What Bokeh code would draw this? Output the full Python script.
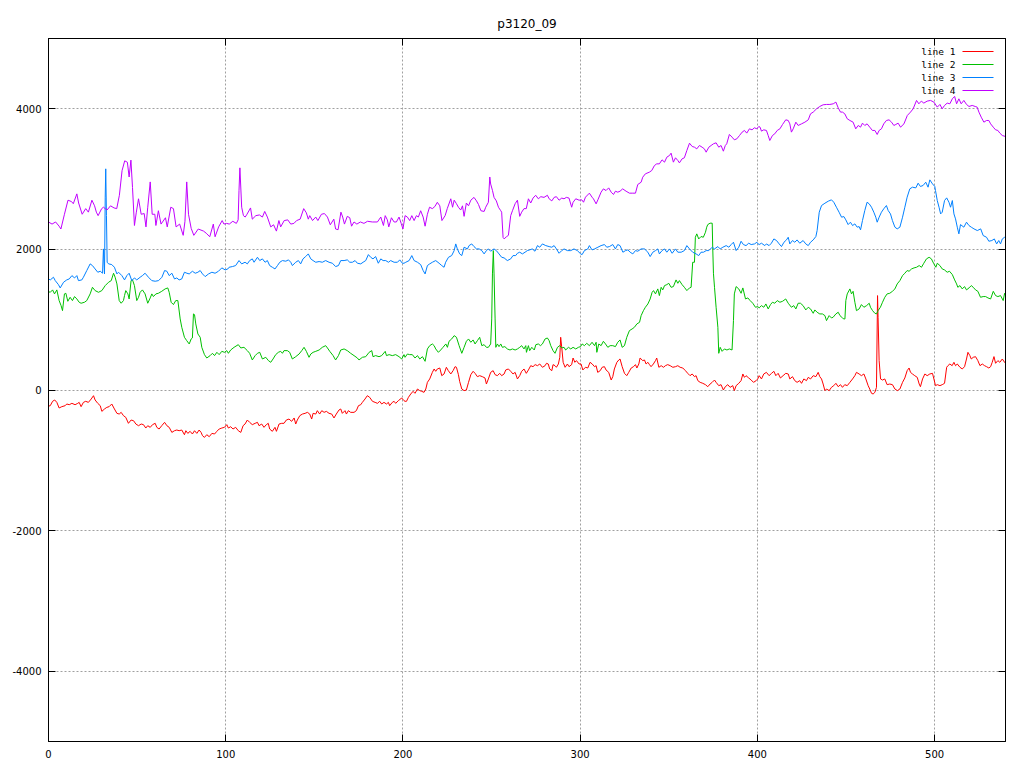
from bokeh.plotting import figure
from bokeh.models import (Range1d, FixedTicker, LinearAxis, PrintfTickFormatter,
                          CustomJSTickFormatter, Label, BoxAnnotation, Grid)
from bokeh.embed import file_html
from bokeh.resources import INLINE

TITLE = "p3120_09"
x_ticks = [0, 100, 200, 300, 400, 500]
y_ticks = [-4000, -2000, 0, 2000, 4000]
series_names = ["line 1", "line 2", "line 3", "line 4"]
series_colors = ["#ff0000", "#00c000", "#0080ff", "#c000ff"]

line1_xy = [
    (0, -230), (1, -223), (2.3, -161), (3.5, -142), (4.7, -176), (6, -256), (7.5, -237), (9.4, -223),
    (10.3, -199), (11.7, -209), (13.2, -190), (15, -209), (16.5, -190), (17.3, -176), (18.4, -237),
    (19.7, -176), (21, -161), (22.5, -176), (24.1, -128), (25.4, -81), (26.3, -142), (27.8, -190),
    (29.2, -223), (30.1, -304), (31.6, -270), (32.9, -247), (34.2, -237), (35.7, -199), (37.2, -270),
    (38.6, -332), (39.9, -342), (41, -318), (42.3, -365), (43.6, -389), (45.1, -474), (46.6, -427),
    (48, -437), (49.3, -484), (50.8, -508), (52.3, -484), (53.6, -493), (54.9, -541), (56, -508),
    (57.4, -531), (58.7, -493), (60.2, -474), (61.1, -531), (62.4, -555), (63.9, -508), (65.5, -460),
    (66.8, -508), (68.1, -531), (69.6, -603), (71.1, -579), (72.4, -569), (73.7, -579), (75.2, -569),
    (76.7, -636), (77.5, -579), (78.6, -617), (79.9, -588), (81.2, -626), (82.4, -579), (83.7, -617),
    (85, -569), (86.1, -603), (86.9, -650), (88, -674), (89.3, -636), (90.7, -664), (92.2, -617),
    (93.7, -626), (95, -588), (96.3, -555), (97.8, -541), (99.3, -531), (100.6, -493),
    (101.5, -541), (102.8, -522), (104.1, -555), (105.6, -531), (107.1, -579), (108.5, -603),
    (109.8, -508), (110.9, -484), (112.2, -427), (113.5, -460), (115, -493), (116.6, -474),
    (117.9, -460), (118.8, -508), (120.3, -484), (121.6, -531), (122.9, -493), (124, -474),
    (124.8, -555), (126.3, -588), (127.8, -531), (128.6, -588), (130.1, -484), (131.6, -474),
    (132.9, -474), (134.2, -427), (135.7, -413), (137.2, -446), (138.6, -398), (139.5, -484),
    (140.4, -427), (141.8, -365), (143.3, -342), (144.8, -332), (146.1, -318), (147.4, -342),
    (148.5, -413), (149.3, -332), (150.8, -342), (151.7, -294), (153, -342), (154.2, -294),
    (155.5, -318), (156.8, -304), (158.3, -332), (159.8, -342), (161.1, -398), (162.4, -342),
    (163.9, -285), (164.9, -270), (165.8, -332), (167.3, -294), (168.1, -342), (169.2, -294),
    (170.5, -318), (172.4, -318), (173.7, -294), (174.9, -223), (176.2, -209), (177.1, -176),
    (178.6, -128), (179.9, -81), (181.2, -104), (182.8, -161), (184.3, -176), (185.6, -190),
    (186.9, -161), (188, -199), (189.3, -176), (190.7, -199), (191.8, -176), (192.5, -223),
    (194, -176), (195, -161), (195.9, -190), (197.4, -152), (199.3, -114), (200.6, -152),
    (201.2, -161), (202, -161), (203.1, -104), (204.4, -57), (205.7, -19), (206.8, -47), (208.2, 14),
    (209.5, -9), (210.6, -19), (211.9, -33), (212.9, 14), (213.8, 109), (215.1, 157), (216.6, 251),
    (217.6, 299), (218.5, 266), (219.4, 299), (220.8, 313), (221.9, 204), (223.2, 228), (224.5, 323),
    (225.6, 275), (227, 228), (228.3, 275), (229.4, 332), (230.2, 323), (231.3, 218), (232, 123),
    (233.2, 14), (234.5, -9), (235.8, 0), (237, 109), (238.3, 218), (239.6, 266), (240.7, 237),
    (242, 190), (243.3, 204), (244.8, 190), (246.3, 171), (247.1, 85), (248.2, 157), (249.5, 251),
    (250.9, 275), (252, 218), (253.3, 204), (254.6, 237), (255.7, 204), (257.1, 228), (258, 285),
    (259.5, 299), (260.8, 266), (262.1, 228), (263.3, 251), (264.6, 157), (265.9, 204), (267, 266),
    (268.3, 299), (269.6, 237), (270.8, 285), (272.1, 346), (273.4, 332), (274.6, 361), (275.9, 346),
    (277.2, 370), (278.7, 323), (280.2, 346), (281, 380), (282, 370), (282.8, 299), (284, 275),
    (284.7, 361), (285.8, 346), (286.6, 323), (287.7, 370), (288.5, 465), (289, 750), (289.6, 607),
    (290.4, 394), (291.5, 323), (292.8, 370), (293.7, 332), (295.2, 361), (296, 455), (297, 394),
    (297.9, 418), (299.4, 370), (300.5, 370), (301.5, 285),
    (303, 323), (304.3, 313), (305.6, 394), (306.8, 370), (308.1, 332), (309, 346), (309.9, 251),
    (311.3, 275), (312.4, 323), (313.7, 332), (314.6, 285), (316.1, 251), (317.5, 142), (318.4, 190),
    (319.3, 299), (320.7, 394), (321.8, 427), (322.5, 441), (323.7, 332), (325, 237), (326.3, 204),
    (327.4, 251), (328.8, 313), (330.1, 332), (331.2, 361), (332, 313), (333.1, 370), (333.8, 455),
    (335.3, 418), (336.3, 427), (337.2, 370), (338.2, 394), (339.1, 361), (340, 332), (341.3, 370),
    (342.5, 418), (343.2, 455), (344.4, 323), (345.7, 346), (347, 323), (348.1, 346), (349.4, 361),
    (350.8, 346), (352.3, 323), (353.8, 332), (355.1, 346), (356.4, 323), (357.9, 313), (359.4, 275),
    (360.7, 237), (362, 204), (363.2, 228), (364.5, 190), (365.4, 204), (366.4, 133), (367.7, 109),
    (369.2, 95), (370.7, 76), (372, 47), (373.3, 85), (374.5, 109), (375.8, 142), (376.7, 109),
    (378.2, 62), (379.5, 76), (380.8, 0), (381.9, 47), (383.3, 76), (384.6, 38), (386.1, 62),
    (387, -9), (388, 62), (389.5, 95), (390.8, 133), (391.8, 228), (392.7, 180), (393.6, 204),
    (395.1, 171), (396.5, 142), (397.8, 109), (399.3, 133), (400.2, 157),
    (401, 204), (402.3, 157), (403.6, 228), (405.1, 251), (406.6, 204), (408, 237), (409.3, 266),
    (410.4, 204), (411.7, 237), (413, 171), (414.5, 204), (416, 237), (417.4, 228), (418.3, 157),
    (419.8, 190), (421.1, 133), (422.4, 109), (423.9, 133), (424.9, 95), (426.2, 157), (427.7, 133),
    (428.7, 180), (430, 157), (431.5, 204), (433, 190), (434.3, 251), (435.2, 190), (436.2, 157),
    (437.1, 85), (438.1, -9), (439, 14), (440.5, -9), (441.8, 38), (443.1, 62), (444.3, 95),
    (445.6, 47), (446.9, 76), (448, 38), (449.3, 76), (450.7, 62), (452.2, 109), (453.7, 157),
    (455, 204), (455.9, 251), (457.4, 228), (458.7, 204), (460.1, 228), (461.2, 157), (462.5, 62),
    (463.4, 14), (464.4, -47), (465.3, -57), (466.3, -33), (467.2, 38), (467.8, 1343), (468.1, 1034),
    (468.7, 418), (469.5, 157), (470.6, 142), (471.9, 157), (473.2, 76), (474.7, 85), (476.2, 76),
    (477.6, 14), (479, -9), (480.4, 14), (481.9, 109), (483.2, 171), (484.5, 275), (485.6, 313),
    (486.4, 251), (487.5, 228), (488.8, 204), (490.2, 180), (491.3, 85), (492, 47), (493.2, 157),
    (494.5, 228), (495.8, 204), (497.3, 228), (498.8, 237), (499.6, 157), (500.5, 62),
    (501.5, 76), (503, 62), (504.3, 76), (505.6, 95), (506.8, 323), (507.5, 346), (508.6, 370),
    (509.9, 346), (510.9, 394), (511.8, 346), (512.8, 370), (514.3, 323), (515.6, 299), (516.9, 332),
    (518, 441), (518.8, 536), (519.9, 489), (520.7, 441), (521.8, 465), (523.1, 474), (524.4, 418),
    (525.6, 346), (526.9, 370), (528.2, 346), (529.3, 332), (530.6, 313), (531.6, 332), (532.5, 394),
    (533.5, 475), (534.4, 380), (535.7, 418), (536.8, 394), (538.2, 441), (539.5, 394), (540, 380),
]

line2_xy = [
    (0, 1400), (1, 1390), (2.3, 1424), (3.4, 1367), (4.7, 1424), (6, 1272), (7.1, 1200), (7.9, 1129),
    (9, 1367), (9.8, 1376), (10.9, 1262), (12.2, 1319), (13.5, 1272), (14.7, 1329), (16, 1295),
    (17.3, 1248), (18.4, 1234), (20.3, 1248), (21.6, 1272), (23.5, 1367), (24.8, 1461), (26.3, 1414),
    (28.2, 1390), (30.1, 1414), (32, 1485), (33.9, 1533), (35.4, 1556), (36.7, 1661), (37.6, 1604),
    (38.6, 1509), (39.9, 1272), (41, 1234), (42.3, 1272), (42.9, 1343), (43.6, 1414), (44.8, 1367),
    (45.5, 1295), (46.6, 1556), (47.4, 1566), (48.5, 1485), (49.8, 1272), (50.8, 1319), (51.7, 1390),
    (53, 1424), (54.5, 1367), (56, 1234), (57.4, 1310), (58.3, 1367), (59.2, 1329), (60.6, 1367),
    (62, 1376), (63.9, 1404), (65.8, 1438), (67.3, 1452), (68.1, 1390), (69.2, 1248), (70.5, 1215),
    (71.8, 1272), (73, 1272), (74.3, 1011), (75.2, 892), (76.7, 750), (78, 702), (79.4, 655),
    (80.5, 726), (81.2, 740), (81.8, 1082), (82.4, 1072), (83.1, 940), (84.3, 797), (85.6, 750),
    (86.5, 607), (88, 503), (89.3, 455), (91.2, 489), (92.5, 522), (93.7, 489), (95, 536), (96.3, 503),
    (97.8, 550), (99.3, 536), (100.6, 560),
    (101.5, 522), (102.8, 569), (104.7, 607), (107.1, 645), (108.5, 598), (110.3, 607), (112.2, 560),
    (113.5, 522), (115, 427), (116.6, 489), (117.9, 522), (119.2, 536), (120.7, 441), (122.6, 465),
    (124.1, 418), (125.4, 394), (126.7, 441), (128.2, 503), (129.7, 536), (131, 550), (132, 522),
    (132.9, 560), (134.8, 560), (136.1, 536), (137.6, 441), (139.5, 474), (141.4, 512), (142.9, 560),
    (144.2, 607), (145.5, 550), (147, 465), (148, 512), (149.3, 536), (150.8, 550), (152.7, 569),
    (154.5, 607), (156.4, 631), (157.4, 598), (158.7, 550), (160.6, 489), (162, 427), (163.6, 489),
    (164.9, 569), (166.8, 584), (168.6, 560), (170.5, 522), (172.4, 489), (174.3, 455), (175.2, 427),
    (177.1, 465), (179, 474), (180.9, 536), (182.4, 560), (183.1, 474), (184.6, 489), (186.5, 474),
    (188, 489), (190, 550), (190.7, 489), (192.2, 503), (194, 489), (195.9, 503), (197.8, 474),
    (199.3, 441), (200.6, 503),
    (201.2, 465), (202.5, 512), (203.8, 503), (205.3, 503), (206.8, 455), (208.2, 489), (209.5, 441),
    (211, 474), (212.5, 408), (213.8, 584), (215.1, 631), (216.6, 655), (217.6, 631), (218.5, 584),
    (220, 536), (221.3, 569), (222.6, 607), (224.2, 655), (225.1, 607), (226, 693), (227.5, 726),
    (228.9, 773), (230.2, 750), (231.7, 631), (233.2, 522), (234.5, 607), (235.8, 693), (237, 726),
    (238.3, 679), (239.6, 712), (240.7, 655), (242, 702), (243.3, 750), (244.5, 631), (245.8, 645),
    (247.1, 607), (248.2, 607), (249.5, 655), (250.1, 1011), (250.5, 1651), (251, 1983), (251.4, 1651),
    (252, 1011), (252.4, 607), (253.3, 655), (254.2, 617), (255.2, 655), (256.1, 607), (257.5, 617),
    (258.9, 584), (260.4, 569), (261.8, 584), (263.3, 569), (264.6, 584), (265.9, 607), (267, 631),
    (268.3, 584), (269.3, 631), (269.7, 536), (270.8, 631), (271.5, 560), (272.7, 607), (274.1, 569),
    (275, 645), (276.4, 655), (277.6, 631), (278.7, 655), (280.2, 726), (281.5, 740), (282.5, 702),
    (283.4, 631), (284.7, 560), (285.8, 522), (287.2, 607), (288.5, 631), (289.6, 598), (290.9, 607),
    (291.8, 569), (293.4, 607), (294.7, 584), (296, 607), (297.5, 584), (299, 607), (300.2, 617),
    (301.1, 655), (302.4, 631), (303.7, 664), (305.2, 631), (306.7, 679), (308.1, 631), (309, 679),
    (309.4, 536), (310.5, 655), (311.8, 631), (313.1, 693), (314.3, 655), (315.6, 607), (316.9, 631),
    (318.4, 631), (319.9, 617), (321.2, 679), (322.5, 712), (323.7, 607), (325, 631), (326.3, 750),
    (327.8, 845), (329.3, 868), (330.6, 892), (332, 940), (333.5, 963), (334.4, 1058), (335.7, 1129),
    (336.8, 1177), (338.2, 1224), (339.5, 1295), (340.6, 1390), (341.4, 1414), (342.5, 1367),
    (343.8, 1438), (344.7, 1343), (345.7, 1461), (346.6, 1424), (347.6, 1485), (348.9, 1499),
    (350, 1518), (351.3, 1461), (352.6, 1471), (354.1, 1566), (355.1, 1518), (356, 1556),
    (357.5, 1499), (358.8, 1461), (360.2, 1414), (361.7, 1452), (362.6, 1461), (363.5, 1817),
    (364.5, 1817), (365, 2173), (365.8, 2221), (366.9, 2149), (368.2, 2183), (369.5, 2173),
    (370.7, 2244), (371.4, 2316), (372, 2353), (373.3, 2373), (374.5, 2373), (374.8, 2031),
    (375.2, 1661), (375.8, 1461), (376.7, 1177), (377.7, 892), (378.2, 522), (379, 607), (380.1, 550),
    (381.4, 584), (382.8, 569), (384.2, 584), (385.7, 569), (386.5, 987), (387, 1367), (388, 1471),
    (389.5, 1438), (390.8, 1376), (391.8, 1452), (393.3, 1295), (394.6, 1310), (395.9, 1272),
    (397.4, 1234), (398.9, 1177), (400.2, 1187),
    (401, 1168), (402.3, 1200), (403.6, 1177), (404.8, 1224), (406.1, 1153), (407.4, 1215),
    (408.5, 1248), (409.8, 1234), (411.2, 1272), (412.7, 1248), (414.2, 1262), (416, 1295),
    (417.4, 1234), (419.2, 1177), (420.5, 1200), (421.7, 1153), (423, 1234), (424.3, 1234),
    (425.8, 1200), (427.3, 1139), (428.7, 1177), (430, 1153), (431.5, 1091), (432.4, 1139),
    (433.7, 1106), (435.2, 1082), (436.7, 1082), (438.1, 1058), (439, 987), (440.5, 1058),
    (441.8, 1025), (442.7, 1034), (444.3, 1082), (445.6, 1106), (446.6, 1058), (448, 1025),
    (448.8, 1011), (449.4, 1011), (449.9, 1272), (450.7, 1367), (452.2, 1438), (453.1, 1367),
    (454, 1404), (455, 1248), (455.9, 1129), (457.4, 1153), (458.7, 1215), (460.1, 1177),
    (461.6, 1200), (463.1, 1234), (463.8, 1177), (465, 1129), (466.3, 1091), (467.2, 1082),
    (468.1, 1129), (469.4, 1177), (470.6, 1248), (471.9, 1319), (473.2, 1367), (474.7, 1376),
    (476.2, 1404), (477.6, 1438), (478.9, 1509), (480.4, 1556), (481.9, 1627), (483.2, 1661),
    (484.5, 1699), (485.6, 1689), (487, 1722), (488.4, 1737), (489.8, 1746), (491.3, 1770),
    (492.6, 1746), (493.9, 1803), (495.4, 1865), (496.9, 1888), (498.2, 1865), (499.4, 1803),
    (500.7, 1746),
    (501.5, 1803), (503, 1770), (504.3, 1722), (505.6, 1708), (507.1, 1675), (508.4, 1689),
    (510, 1642), (511.3, 1566), (512.4, 1509), (513.1, 1461), (514.3, 1485), (515.6, 1438),
    (516.9, 1471), (518, 1424), (519.4, 1452), (520.7, 1485), (521.8, 1461), (523.1, 1424),
    (524.4, 1404), (525.9, 1319), (527.4, 1329), (528.8, 1329), (530.1, 1310), (531.6, 1295),
    (533.1, 1404), (534.4, 1343), (535.7, 1329), (537.2, 1343), (538.7, 1272), (539.5, 1376),
    (540, 1343),
]

line3_xy = [
    (0, 1580), (1, 1566), (2.8, 1604), (3.8, 1556), (5.6, 1499), (6.6, 1452), (8.5, 1533),
    (10.3, 1566), (11.7, 1580), (13.2, 1627), (14.7, 1594), (16, 1627), (16.9, 1556), (18.8, 1566),
    (19.7, 1604), (21.6, 1699), (23.5, 1794), (24.8, 1770), (26.3, 1722), (27.8, 1675), (29.2, 1689),
    (30.5, 1661), (31, 2007), (31.6, 1651), (32, 2743), (32.3, 3146), (32.7, 2480), (33.1, 1817),
    (33.9, 1794), (35.7, 1784), (37.2, 1746), (38.6, 1651), (39.5, 1675), (41.4, 1627), (42.9, 1566),
    (44.2, 1627), (45.5, 1661), (47, 1556), (48.5, 1594), (49.8, 1566), (51.7, 1604), (53, 1627),
    (54.5, 1661), (56.4, 1604), (58.3, 1556), (60.2, 1547), (62.1, 1556), (64, 1604), (65.5, 1699),
    (66.8, 1689), (68.1, 1627), (69.6, 1661), (71.1, 1580), (72.4, 1594), (73.7, 1566), (75.2, 1580),
    (76.7, 1675), (78.1, 1661), (79.4, 1651), (81.2, 1689), (82.8, 1661), (84.3, 1675), (85.6, 1699),
    (86.9, 1651), (88.4, 1613), (90.3, 1651), (92.2, 1675), (94, 1661), (95.9, 1689), (97.8, 1737),
    (99.7, 1708), (101.2, 1722),
    (101.9, 1746), (103.8, 1756), (105.6, 1770), (107.5, 1841), (109, 1794), (110.9, 1817),
    (112.2, 1794), (113.5, 1841), (115, 1865), (116, 1817), (117.9, 1888), (119.2, 1841),
    (120.7, 1865), (122.2, 1817), (123.5, 1841), (124.8, 1770), (126.3, 1746), (127.8, 1722),
    (129.2, 1770), (130.5, 1817), (132, 1841), (133.9, 1832), (135.4, 1851), (136.7, 1817),
    (137.6, 1770), (139.5, 1817), (141, 1841), (142.3, 1794), (143.6, 1865), (145.1, 1898),
    (146.6, 1936), (148, 1865), (149.3, 1841), (150.8, 1817), (152.7, 1827), (154.5, 1817),
    (156.4, 1841), (158.3, 1817), (160.2, 1803), (162, 1756), (163.6, 1770), (164.9, 1841),
    (166.8, 1841), (168.6, 1851), (170, 1817), (171.5, 1817), (173, 1841), (174.3, 1803),
    (176.2, 1794), (177.5, 1817), (179, 1841), (180.5, 1926), (181.8, 1888), (183.1, 1865),
    (184.6, 1898), (186.1, 1803), (187.5, 1865), (188.8, 1841), (190.3, 1841), (191.8, 1817),
    (193.1, 1841), (195, 1817), (196.9, 1817), (198.2, 1851), (199.7, 1803), (200.6, 1803),
    (201.6, 1817), (203.5, 1841), (205, 1912), (206.3, 1841), (208.2, 1817), (210, 1784),
    (211.4, 1699), (212.5, 1651), (213.8, 1770), (215.1, 1794), (216.6, 1817), (218.5, 1841),
    (220.4, 1803), (221.9, 1770), (223.2, 1746), (224.1, 1817), (225.7, 1888), (227.5, 1912),
    (228.9, 1983), (229.8, 2078), (230.7, 2007), (232, 1936), (233.2, 1912), (234.5, 2031),
    (236.4, 2007), (237.3, 2054), (238.8, 2078), (240.1, 2040), (241.5, 2007), (243, 2007),
    (244.5, 1983), (245.8, 1936), (247.1, 1983), (248.2, 2007), (249.5, 1974), (250.5, 1993),
    (251.4, 2007), (252.7, 1983), (254.2, 1936), (255.7, 1888), (257.1, 1879), (258.9, 1841),
    (260.8, 1865), (262.1, 1912), (263.6, 1912), (264.6, 1945), (265.9, 1960), (267.4, 1936),
    (268.9, 1960), (270.2, 1983), (271.5, 1993), (273, 2007), (274.5, 1974), (275.9, 2054),
    (277.2, 2031), (278.7, 2078), (280.6, 2054), (282.5, 2040), (284, 2031), (285.3, 2054),
    (286.6, 2007), (288.1, 1945), (289.6, 1983), (290.9, 2007), (292.8, 1983), (294.7, 1983),
    (296.5, 2007), (298.4, 1983), (300.3, 1936),
    (301.1, 1926), (302.4, 1983), (304.3, 2007), (305.2, 2054), (306.7, 1993), (308.1, 2007),
    (310, 2031), (311.8, 2054), (313.7, 2069), (315, 2031), (316.5, 2040), (318.4, 2069),
    (319.9, 2007), (321.2, 2069), (322.5, 2054), (324.1, 1960), (325.6, 1983), (326.9, 1993),
    (328.2, 1960), (329.7, 1936), (331.2, 1983), (332.5, 1974), (334.4, 2007), (336.3, 2007),
    (338.2, 1960), (339.5, 1898), (341, 1960), (342.5, 1983), (343.8, 2007), (344.7, 1936),
    (346.2, 1983), (347.6, 2007), (348.9, 1960), (350.4, 2007), (351.9, 1945), (353.8, 2007),
    (355.1, 1960), (357, 1960), (358.8, 1983), (360.2, 2054), (361.7, 2007), (363.5, 1960),
    (365.4, 1936), (366.9, 1912), (368.2, 1960), (369.6, 1960), (371.1, 1983), (372.6, 1983),
    (374.5, 2031), (375.8, 2007), (377.7, 2040), (379, 2007), (380.5, 2031), (382.4, 2054),
    (383.9, 2031), (385.2, 2069), (386.5, 2102), (388, 1983), (389.5, 2031), (390.8, 2116),
    (392.1, 2069), (393.6, 2054), (395.1, 2088), (396.5, 2069), (398.4, 2078), (399.7, 2102),
    (400.4, 2078),
    (401, 2069), (402.3, 2088), (404.2, 2054), (405.1, 2078), (406.6, 2054), (407.9, 2088),
    (409.3, 2149), (410.8, 2126), (412.3, 2078), (413.6, 2040), (415, 2102), (416.4, 2135),
    (417.4, 2173), (418.3, 2078), (419.8, 2126), (421.1, 2102), (422.4, 2135), (423.9, 2088),
    (425.8, 2126), (427.3, 2078), (428.7, 2054), (430, 2102), (431.5, 2135), (433, 2183),
    (433.7, 2268), (434.9, 2529), (436.2, 2624), (438.1, 2657), (440, 2686), (441.8, 2705),
    (443.1, 2671), (444.6, 2600), (446.1, 2529), (447.5, 2458), (448.8, 2467), (449.9, 2420),
    (451.2, 2353), (452.5, 2387), (453.7, 2339), (455, 2363), (456.3, 2316), (457.4, 2325),
    (458.2, 2278), (459.3, 2410), (460.6, 2553), (461.9, 2671), (463.1, 2648), (464.4, 2600),
    (465.7, 2529), (466.8, 2458), (467.6, 2387), (468.7, 2458), (470, 2529), (471.3, 2577),
    (472.8, 2624), (473.8, 2553), (475.1, 2505), (476.2, 2410), (477.6, 2316), (478.9, 2292),
    (480.4, 2316), (481.9, 2458), (483.2, 2600), (484.5, 2743), (486, 2861), (487.5, 2885),
    (489.4, 2875), (490.7, 2942), (492, 2895), (493.5, 2909), (495, 2956), (496.3, 2885),
    (497.3, 2989), (498.8, 2932), (500.1, 2895), (500.5, 2837),
    (501.5, 2695), (502.5, 2600), (503.4, 2505), (504.3, 2529), (505.6, 2695), (506.8, 2733),
    (508.1, 2671), (509, 2600), (510, 2695), (510.9, 2505), (511.8, 2434), (512.8, 2316),
    (513.7, 2221), (514.6, 2353), (516.5, 2316), (518, 2387), (519.4, 2339), (520.7, 2316),
    (522.2, 2292), (524.1, 2268), (526, 2292), (527.4, 2197), (529.3, 2173), (530.6, 2116),
    (532.3, 2126), (533.7, 2149), (535, 2078), (536.2, 2126), (537.2, 2078), (538.2, 2149),
    (539.5, 2173), (540, 2183),
]

line4_xy = [
    (0, 2390), (2, 2360), (4, 2390), (6, 2330), (7, 2290), (9, 2500), (11, 2700), (13, 2680),
    (14, 2650), (16, 2790), (17, 2660), (19, 2500), (21, 2580), (22.5, 2530), (24.5, 2700),
    (26, 2620), (27, 2530), (28, 2480), (30, 2580), (31, 2600), (33, 2560), (35, 2620), (37, 2590),
    (38.5, 2580), (40, 2770), (41.5, 3120), (43, 3260), (44.5, 3240), (45.5, 3030), (46.5, 3270),
    (47.4, 2880), (48.5, 2340), (49.5, 2520), (50.8, 2720), (52.3, 2500), (54, 2510), (55, 2320),
    (56, 2600), (57.4, 2960), (58.5, 2500), (60, 2500), (60.6, 2340), (62, 2550), (63.5, 2360),
    (66, 2450), (67, 2320), (69, 2600), (70.5, 2580), (72, 2320), (74, 2360), (76, 2200), (77, 2400),
    (78, 2960), (79, 2500), (80.5, 2300), (82, 2200), (84.5, 2290), (87.5, 2260), (89, 2230),
    (91, 2180), (93, 2360), (94, 2180), (96, 2320), (98, 2410), (99, 2360), (100.5, 2370),
    (102, 2360), (104, 2400), (106, 2370), (107, 2420), (107.5, 2840), (108, 3160), (109, 2600),
    (110, 2480), (111, 2460), (112, 2500), (114, 2590), (115, 2430), (117, 2480), (119, 2490),
    (120.7, 2460), (122, 2540), (123.5, 2460), (125.4, 2320), (127, 2350), (128.6, 2260),
    (130, 2410), (131, 2320), (133, 2410), (135, 2420), (136.7, 2360), (138.5, 2370), (140, 2410),
    (142, 2430), (144, 2580), (145.5, 2520), (146.6, 2430), (147.4, 2480), (149, 2410),
    (150.8, 2460), (152, 2410), (154, 2500), (155.7, 2510), (157.4, 2460), (159, 2350), (161, 2430),
    (162, 2290), (163.4, 2280), (165, 2530), (166, 2460), (167, 2360), (168.6, 2470), (170, 2450),
    (171, 2330), (172.4, 2390), (174, 2360), (176, 2390), (178, 2370), (180, 2400), (182.7, 2390),
    (185.6, 2390), (187.5, 2460), (189, 2340), (190, 2480), (191.2, 2420), (192, 2320),
    (193.5, 2450), (195, 2390), (196.3, 2390), (197.8, 2460), (199, 2370), (200, 2290),
    (201.2, 2480), (202.5, 2460), (203.8, 2410), (205, 2480), (206.3, 2410), (207.6, 2480),
    (208.7, 2460), (210, 2550), (211.4, 2460), (212.5, 2330), (213.8, 2500), (215, 2600),
    (216.6, 2580), (218, 2610), (219.4, 2670), (220.8, 2620), (222, 2410), (223.8, 2480),
    (225, 2580), (227, 2720), (228, 2600), (228.9, 2700), (230.2, 2650), (231.3, 2600),
    (232.6, 2560), (233.6, 2620), (234.5, 2470), (235.8, 2660), (237, 2620), (238.3, 2700),
    (240.1, 2740), (241.5, 2690), (242.6, 2640), (244, 2550), (245.8, 2540), (246.7, 2600),
    (248.2, 2670), (249, 3030), (249.5, 2930), (250.5, 2840), (251.4, 2740), (252.7, 2690),
    (253.9, 2600), (255.2, 2550), (255.7, 2530), (256.5, 2170), (257.1, 2150), (258.4, 2180),
    (259.5, 2200), (260.8, 2480), (261.8, 2550), (263.3, 2650), (264.6, 2700), (265.9, 2470),
    (267, 2530), (268.3, 2580), (269.6, 2580), (270.8, 2720), (272.1, 2660), (273.4, 2730),
    (274.9, 2770), (276.4, 2720), (277.8, 2750), (279.6, 2740), (281.5, 2770), (282.5, 2720),
    (284, 2690), (285.3, 2740), (286.6, 2750), (288.1, 2700), (289.6, 2730), (290.9, 2720),
    (292.2, 2740), (293.7, 2730), (295.2, 2600), (296, 2670), (297.5, 2720), (299.4, 2700),
    (300.9, 2705), (301.9, 2671), (303, 2743), (305.2, 2800), (306.7, 2743), (307.5, 2719),
    (309, 2648), (310, 2705), (311.8, 2814), (313.1, 2861), (314.6, 2837), (316.1, 2875),
    (317.5, 2814), (318.8, 2781), (319.9, 2828), (321.2, 2814), (322.5, 2828), (324, 2861),
    (325.9, 2828), (327.8, 2800), (329.7, 2800), (331.2, 2800), (332.5, 2923), (334.4, 2956),
    (335.3, 3027), (336.8, 3075), (339, 3098), (340.4, 3122), (341.9, 3193), (343.2, 3217),
    (344.7, 3217), (346.2, 3274), (347.6, 3241), (348.9, 3312), (350.4, 3336), (351.3, 3369),
    (352.6, 3241), (353.8, 3303), (355.1, 3265), (356, 3231), (357.5, 3288), (358.8, 3303),
    (360.2, 3407), (361.7, 3511), (363.2, 3464), (364.5, 3454), (365.8, 3430), (367.3, 3478),
    (368.8, 3454), (370.1, 3430), (371.1, 3383), (372.6, 3454), (373.9, 3478), (375.2, 3502),
    (376.7, 3516), (378.2, 3454), (379.5, 3478), (380.8, 3397), (381.9, 3478), (382.7, 3502),
    (384.2, 3635), (385.7, 3597), (387, 3559), (388.4, 3573), (389.9, 3620), (391.4, 3668),
    (392.7, 3692), (394, 3654), (395.5, 3715), (397, 3701), (398.3, 3730), (399.7, 3715),
    (400.8, 3749),
    (401.5, 3739), (402.3, 3682), (403.6, 3701), (405.1, 3692), (406.1, 3620), (407, 3549),
    (408.5, 3620), (409.8, 3644), (411.2, 3692), (412.7, 3715), (414.2, 3777), (416, 3843),
    (417.4, 3834), (418.3, 3786), (419.2, 3668), (420.2, 3715), (421.7, 3810), (423, 3763),
    (424.9, 3786), (426.8, 3810), (428.7, 3843), (430, 3929), (431.5, 3953), (433.4, 4000),
    (435.2, 4033), (437.1, 4057), (439, 4062), (440.9, 4062), (442.8, 4071), (444.3, 4095),
    (445.6, 4014), (446.9, 3953), (448, 3953), (449.3, 3929), (450.7, 3858), (452.2, 3834),
    (454, 3810), (455.5, 3715), (456.9, 3763), (458.2, 3739), (459.3, 3796), (460.6, 3763),
    (461.9, 3786), (463.4, 3739), (464.9, 3692), (466.3, 3692), (467.6, 3635), (468.7, 3692),
    (470, 3715), (471.3, 3786), (472.8, 3834), (474.3, 3843), (475.7, 3810), (477, 3763),
    (478.1, 3777), (479.4, 3796), (480.8, 3739), (482.7, 3786), (484.6, 3905), (486.4, 3953),
    (487.9, 4000), (489.8, 4119), (491.1, 4071), (492.5, 4109), (493.9, 4081), (495.8, 4109),
    (497.7, 4119), (499.6, 4095), (501.5, 4024), (503, 4062), (504.3, 4000), (505.6, 4048),
    (507.1, 4081), (508.6, 4071), (510, 4142), (511.3, 4176), (512.4, 4071), (513.7, 4142),
    (515, 4071), (516.5, 4119), (518, 4062), (519.4, 4033), (521.2, 4048), (522.9, 4033),
    (524, 4024), (525, 3953), (526.3, 3881), (527.8, 3810), (529.3, 3834), (530.6, 3834),
    (531.6, 3786), (533.1, 3739), (534.4, 3701), (535.7, 3692), (536.8, 3654), (538.2, 3620),
    (540, 3606),
]

all_series = [line1_xy, line2_xy, line3_xy, line4_xy]

TICK_FONT = "DejaVu Sans"
KEY_FONT = "DejaVu Sans Mono"
FRAME_W, FRAME_H = 957, 703
BORDER_L, BORDER_R, BORDER_T, BORDER_B = 48, 19, 38, 27

p = figure(
    width=BORDER_L + FRAME_W + BORDER_R, height=BORDER_T + FRAME_H + BORDER_B,
    x_range=Range1d(0, 540), y_range=Range1d(-5000, 5000),
    output_backend="svg", toolbar_location=None, title=TITLE,
    min_border_left=BORDER_L, min_border_right=BORDER_R,
    min_border_top=BORDER_T, min_border_bottom=BORDER_B,
    x_axis_type=None, y_axis_type=None,
)
p.background_fill_color = "white"
p.border_fill_color = "white"
p.outline_line_color = "black"
p.outline_line_width = 1
p.title.align = "center"
p.title.text_font = TICK_FONT
p.title.text_font_size = "12px"
p.title.text_font_style = "normal"
p.title.text_color = "black"
p.title.standoff = 15

xt = FixedTicker(ticks=x_ticks)
yt = FixedTicker(ticks=y_ticks)


def style_axis(ax, show_labels):
    ax.major_tick_in = 7
    ax.major_tick_out = 0
    ax.minor_tick_in = 0
    ax.minor_tick_out = 0
    ax.axis_line_color = "black"
    ax.major_tick_line_color = "black"
    ax.major_label_text_font = TICK_FONT
    ax.major_label_text_font_size = "10px"
    ax.major_label_text_color = "black"
    if show_labels:
        ax.formatter = PrintfTickFormatter(format="%d")
    else:
        ax.formatter = CustomJSTickFormatter(code="return ''")
        ax.major_label_standoff = 0


bottom = LinearAxis(ticker=xt)
style_axis(bottom, True)
bottom.major_label_standoff = 8
p.add_layout(bottom, "below")

left = LinearAxis(ticker=yt)
style_axis(left, True)
left.major_label_standoff = 7
p.add_layout(left, "left")

top = LinearAxis(ticker=xt)
style_axis(top, False)
p.add_layout(top, "above")

right = LinearAxis(ticker=yt)
style_axis(right, False)
p.add_layout(right, "right")

for dim, tk in ((0, xt), (1, yt)):
    p.add_layout(Grid(dimension=dim, ticker=tk, grid_line_color="#a0a0a0",
                      grid_line_dash="2 2", grid_line_width=1))

for pts, color in zip(all_series, series_colors):
    xs = [a for a, b in pts]
    ys = [b for a, b in pts]
    p.line(xs, ys, line_color=color, line_width=1)

# gnuplot-style key: text on the left, sample line on the right (screen units, frame-relative)
KEY_TEXT_X = 907
KEY_LINE_X0, KEY_LINE_X1 = 914, 945
KEY_Y0, KEY_DY = 690, 13.1
for i, (name, color) in enumerate(zip(series_names, series_colors)):
    yk = round(KEY_Y0 - KEY_DY * i)
    p.add_layout(Label(x=KEY_TEXT_X, y=yk, x_units="screen", y_units="screen",
                       text=name, text_align="right", text_baseline="middle",
                       text_font=KEY_FONT, text_font_size="9.5px", text_color="black"))
    p.add_layout(BoxAnnotation(left=KEY_LINE_X0, right=KEY_LINE_X1, bottom=yk - 0.5, top=yk + 0.5,
                               left_units="screen", right_units="screen",
                               bottom_units="screen", top_units="screen",
                               fill_color=color, fill_alpha=1.0, line_color=None))

open("out.html", "w").write(file_html(p, INLINE))
